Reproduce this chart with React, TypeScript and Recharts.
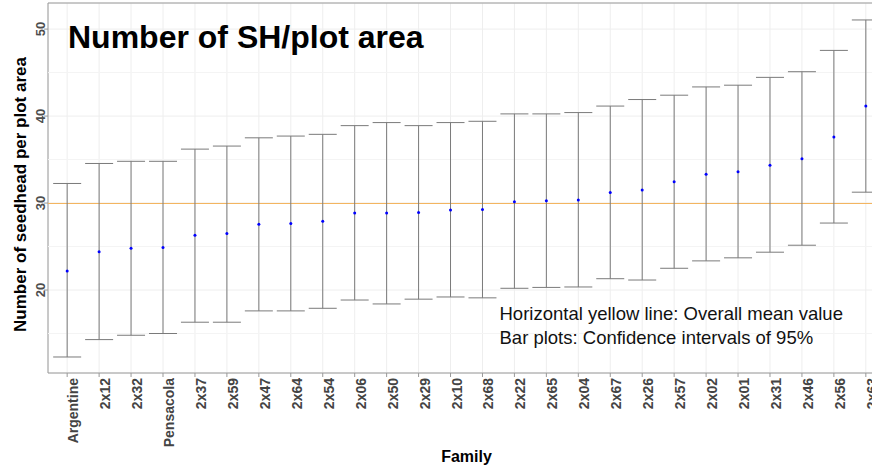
import React from 'react';
import { ComposedChart, Scatter, ErrorBar, XAxis, YAxis, CartesianGrid, ReferenceLine, ReferenceArea } from 'recharts';

const categories = ['Argentine', '2x12', '2x32', 'Pensacola', '2x37', '2x59', '2x47', '2x64', '2x54', '2x06', '2x50', '2x29', '2x10', '2x68', '2x22', '2x65', '2x04', '2x67', '2x26', '2x57', '2x02', '2x01', '2x31', '2x46', '2x56', '2x63'];
const means = [22.2, 24.4, 24.8, 24.9, 26.3, 26.5, 27.55, 27.65, 27.9, 28.85, 28.85, 28.9, 29.2, 29.25, 30.15, 30.25, 30.35, 31.2, 31.5, 32.45, 33.3, 33.6, 34.35, 35.1, 37.6, 41.15];
const lowerCI = [12.3, 14.3, 14.8, 15.0, 16.3, 16.3, 17.6, 17.6, 17.9, 18.85, 18.4, 18.95, 19.2, 19.1, 20.2, 20.3, 20.35, 21.3, 21.15, 22.5, 23.35, 23.7, 24.35, 25.15, 27.7, 31.25];
const upperCI = [32.25, 34.55, 34.8, 34.8, 36.2, 36.55, 37.5, 37.7, 37.9, 38.9, 39.25, 38.9, 39.25, 39.4, 40.25, 40.25, 40.4, 41.15, 41.9, 42.4, 43.35, 43.55, 44.45, 45.1, 47.55, 51.05];
const overallMean = 29.95;
const yTicks = [20, 30, 40, 50];
const yMinorTicks = [15, 25, 35, 45];
const yDomain = [10.46, 53];
const xTicks = categories.map((_, i) => i + 1);

const data = categories.map((name, i) => ({
  x: i + 1,
  name,
  mean: means[i],
  err: [means[i] - lowerCI[i], upperCI[i] - means[i]],
}));

const FONT = '"Liberation Sans", Arial, Helvetica, sans-serif';

const XTick = (props: any) => {
  const { x, y, payload } = props;
  const label = categories[payload.value - 1] ?? '';
  return (
    <text
      transform={`translate(${x + 11}, ${y + 1}) rotate(-90)`}
      textAnchor="end"
      fontFamily={FONT}
      fontSize={14}
      fontWeight="bold"
      fill="#444444"
    >
      {label}
    </text>
  );
};

const YTick = (props: any) => {
  const { x, y, payload } = props;
  return (
    <text
      transform={`translate(${x + 1}, ${y}) rotate(-90)`}
      textAnchor="middle"
      fontFamily={FONT}
      fontSize={13}
      fontWeight="bold"
      fill="#4d4d4d"
    >
      {payload.value}
    </text>
  );
};

const Dot = (props: any) => {
  const { cx, cy } = props;
  if (cx == null || cy == null) return null;
  return <circle cx={cx} cy={cy} r={1.5} fill="#0000ff" />;
};

export default function App() {
  return (
    <div style={{ position: 'absolute', left: 0, top: 0, width: 872, height: 469, overflow: 'hidden', background: '#fff' }}>
      <ComposedChart
        width={900}
        height={469}
        data={data}
        margin={{ top: 3, right: 15, bottom: 0, left: 0 }}
      >
        <CartesianGrid stroke="#eeeeee" strokeWidth={1} />
        {yMinorTicks.map((v) => (
          <ReferenceLine key={v} y={v} stroke="#f4f4f4" strokeWidth={1} />
        ))}
        <XAxis
          type="number"
          dataKey="x"
          domain={[0.4, 26.6]}
          ticks={xTicks}
          interval={0}
          allowDataOverflow
          height={96}
          axisLine={false}
          tickLine={{ stroke: '#999999' }}
          tickSize={4}
          tickMargin={0}
          tick={<XTick />}
        />
        <YAxis
          type="number"
          dataKey="mean"
          domain={yDomain}
          ticks={yTicks}
          allowDataOverflow
          width={48}
          axisLine={false}
          tickLine={{ stroke: '#999999' }}
          tickSize={4}
          tickMargin={0}
          tick={<YTick />}
        />
        <ReferenceLine y={overallMean} stroke="#f3b35d" strokeWidth={1} />
        <Scatter data={data} dataKey="mean" shape={<Dot />} isAnimationActive={false}>
          <ErrorBar dataKey="err" direction="y" width={14} stroke="#7a7a7a" strokeWidth={1} isAnimationActive={false} />
        </Scatter>
        <ReferenceArea x1={0.4} x2={26.6} y1={yDomain[0]} y2={yDomain[1]} fill="none" stroke="#9a9a9a" strokeWidth={1} ifOverflow="visible" />
      </ComposedChart>
      <svg width={872} height={469} style={{ position: 'absolute', left: 0, top: 0, pointerEvents: 'none' }}>
        <text x={68} y={47.5} fontFamily={FONT} fontSize={32} fontWeight="bold" fill="#000">
          Number of SH/plot area
        </text>
        <text
          transform="translate(26, 194.5) rotate(-90)"
          textAnchor="middle"
          fontFamily={FONT}
          fontSize={17}
          fontWeight="bold"
          fill="#000"
        >
          Number of seedhead per plot area
        </text>
        <text x={466.5} y={462} textAnchor="middle" fontFamily={FONT} fontSize={16} fontWeight="bold" fill="#000">
          Family
        </text>
        <text x={499.5} y={320} fontFamily={FONT} fontSize={18.5} fill="#111">
          Horizontal yellow line: Overall mean value
        </text>
        <text x={499.5} y={344} fontFamily={FONT} fontSize={18.5} fill="#111">
          Bar plots: Confidence intervals of 95%
        </text>
      </svg>
    </div>
  );
}
